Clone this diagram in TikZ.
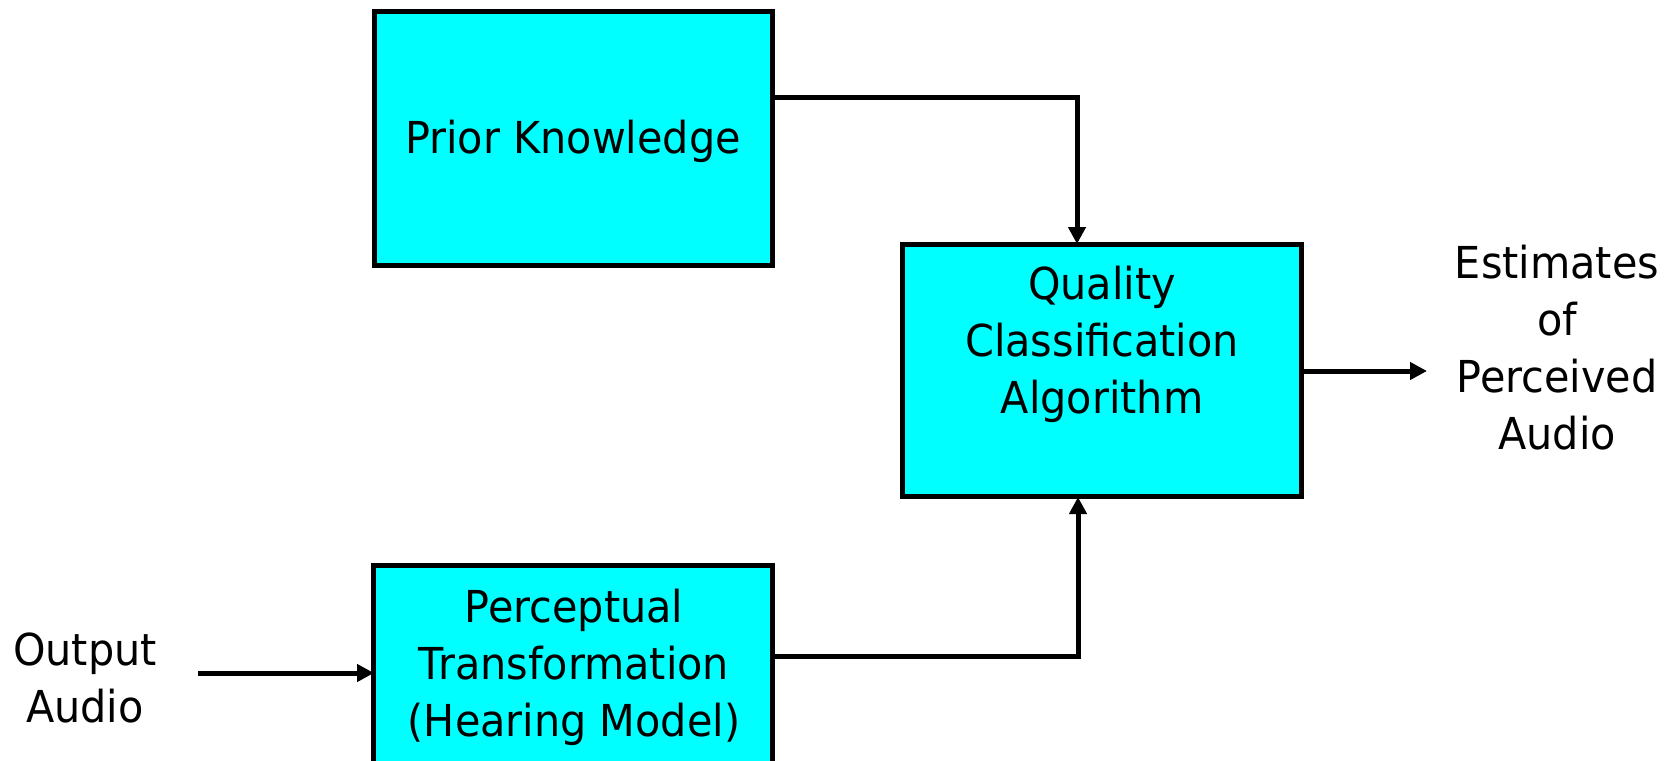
\documentclass[tikz,border=0pt]{standalone}
\usepackage{fontspec}
\setmainfont{DejaVu Sans}[FakeStretch=0.94]
\usetikzlibrary{arrows.meta}
\definecolor{boxcyan}{RGB}{0,255,255}
\tikzset{
  blk/.style={draw=black, fill=boxcyan, line width=5pt, rectangle, inner sep=0pt},
  txt/.style={align=center, inner sep=0pt, font=\fontsize{44}{57}\selectfont},
  conn/.style={line width=5pt, -{Triangle[width=17pt,length=17pt]}}
}
\begin{document}
\begin{tikzpicture}[x=1pt,y=-1pt]
\useasboundingbox (0,0) rectangle (1669,760);
\clip (0,0) rectangle (1669,760);
% boxes
\node[blk, minimum width=398pt, minimum height=254pt] (prior) at (573.5,138.5) {};
\node[blk, minimum width=399pt, minimum height=252pt] (qual) at (1102,370.5) {};
\node[blk, minimum width=399pt, minimum height=260pt] (perc) at (573,695.5) {};
% texts
\node[txt] (priort) at (573,141) {Prior Knowledge};
\node[txt] (qualt) at (1102,344) {Quality\\Classification\\Algorithm};
\node[txt] (perct) at (574,667) {Perceptual\\Transformation\\(Hearing Model)};
\node[txt] (outt) at (85,678) {Output\\Audio};
\node[txt] (estt) at (1557,348) {Estimates\\of\\Perceived\\Audio};
% connector end points
\coordinate (qtop) at (1077,244);
\coordinate (qbot) at (1078,497);
\coordinate (oin) at (198,673);
\coordinate (qout) at (1427,371);
% connectors
\draw[conn] (prior.east |- 0,97) -| (qtop);
\draw[conn] (perc.east |- 0,656) -| (qbot);
\draw[conn] (oin) -- ([xshift=3pt]perc.west |- oin);
\draw[conn] (qual.east |- qout) -- (qout);
\end{tikzpicture}
\end{document}
